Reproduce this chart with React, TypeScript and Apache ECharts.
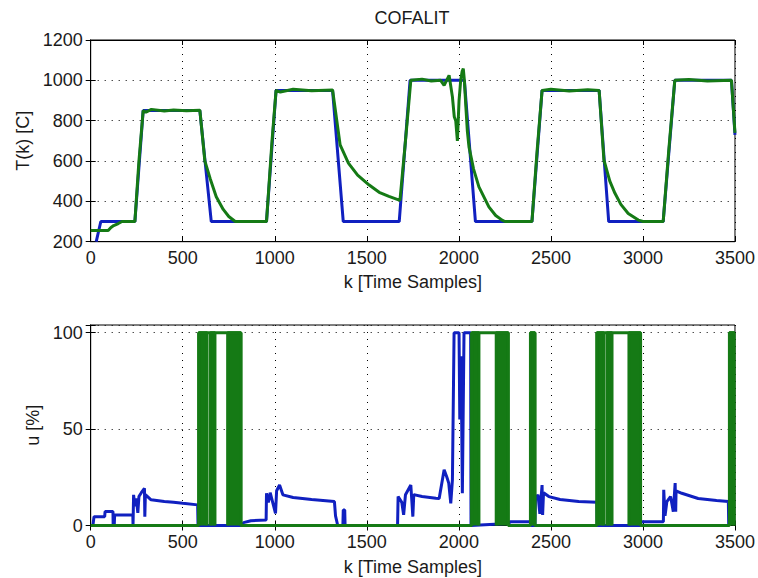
import React, { useEffect, useRef } from "react";
import * as echarts from "echarts";

// ---------- data ----------
const xTicks = [0, 500, 1000, 1500, 2000, 2500, 3000, 3500];
const tTicks = [200, 400, 600, 800, 1000, 1200];
const uTicks = [0, 50, 100];

// Top plot: temperature T(k) [C]
const topBlue: number[][] = [
  [30, 200], [55, 300], [240, 300], [285, 850], [593, 850], [655, 300], [955, 300],
  [1007, 950], [1314, 950], [1372, 300], [1676, 300], [1735, 1000], [2030, 1000],
  [2090, 300], [2397, 300], [2452, 950], [2762, 950], [2814, 300], [3110, 300],
  [3173, 1000], [3481, 1000], [3500, 730],
];

const topGreen: number[][] = [
  [0, 255], [95, 255], [110, 270], [125, 280], [150, 290], [170, 300], [240, 300],
  [262, 600], [285, 850], [300, 842], [330, 856], [400, 848], [450, 853], [520, 849], [593, 852],
  [620, 600], [650, 510], [682, 423], [720, 360], [750, 325], [785, 300], [955, 300],
  [985, 700], [1007, 950], [1030, 942], [1100, 956], [1200, 948], [1314, 952],
  [1355, 680], [1400, 590], [1450, 530], [1513, 481], [1567, 445], [1620, 425], [1680, 405],
  [1710, 700], [1739, 1000], [1800, 1006], [1850, 997], [1901, 1000], [1920, 975], [1935, 1002],
  [1947, 1025], [1965, 918], [1975, 820], [1983, 800], [1992, 700], [2001, 900], [2010, 1000],
  [2018, 1045], [2024, 1058], [2030, 1000], [2037, 885], [2046, 750], [2055, 670], [2080, 560],
  [2109, 472], [2163, 373], [2200, 330], [2235, 307], [2250, 300], [2397, 300],
  [2425, 650], [2452, 950], [2500, 956], [2600, 947], [2700, 953], [2762, 950],
  [2788, 605], [2820, 500], [2848, 440], [2880, 385], [2920, 340], [2975, 307], [3000, 300], [3110, 300],
  [3140, 650], [3173, 1000], [3250, 1004], [3350, 997], [3481, 1000], [3500, 740],
];

// Bottom plot: control signal u [%]
const bottomBlue: number[][] = [
  [12, 0], [18, 4.6], [76, 4.6], [78, 7.2], [121, 7.2], [122, 0], [128, 0], [130, 5.5], [229, 5.5],
  [230, 0], [233, 15.9], [240, 10], [248, 14], [256, 6.5], [262, 15], [275, 17], [292, 19.3],
  [294, 4.6], [297, 16], [328, 13.3], [400, 12.5], [450, 12], [500, 11.5], [581, 10.7], [583, 0],
  [825, 0], [830, 1.5], [870, 2.5], [953, 2.9], [955, 16.7], [965, 12], [975, 17], [1004, 6.3],
  [1010, 18], [1026, 21], [1044, 15.9], [1100, 14.5], [1200, 13.5], [1324, 12.4], [1330, 5],
  [1342, 0], [1370, 0], [1372, 8], [1380, 8], [1382, 0], [1667, 0], [1670, 15], [1690, 12],
  [1700, 5.5], [1710, 16], [1739, 21], [1750, 4.6], [1755, 16], [1800, 15], [1875, 14.1],
  [1893, 14], [1920, 28.9], [1935, 25], [1945, 22], [1956, 11.5], [1965, 23.7], [1974, 100],
  [2001, 100], [2005, 55], [2012, 87.8], [2019, 16.7], [2028, 100], [2064, 100], [2066, 0],
  [2270, 1], [2280, 2], [2389, 2], [2392, 0], [2413, 0], [2416, 13.3], [2430, 16], [2440, 6],
  [2452, 21], [2455, 5.5], [2460, 17], [2489, 15], [2550, 13.5], [2651, 12.4], [2750, 12],
  [2752, 0], [2985, 0], [2987, 1.5], [3000, 2], [3111, 2], [3113, 18.5], [3120, 5], [3130, 12.4],
  [3150, 15], [3165, 7.2], [3175, 22], [3178, 7.2], [3180, 18], [3211, 16.7], [3300, 14],
  [3400, 13], [3464, 12.4], [3466, 0],
];

const bottomGreen: number[][] = [
  [0, 0], [587, 0], [587, 100], [816, 100], [816, 0], [2070, 0], [2070, 100], [2268, 100],
  [2268, 0], [2389, 0], [2389, 100], [2413, 100], [2413, 0], [2750, 0], [2750, 100],
  [2987, 100], [2987, 0], [3470, 0], [3470, 100], [3500, 100],
];

// dense on/off switching intervals (filled solid between 0 and 100): [start, end]
const greenBlocks: number[][] = [
  [587, 632], [650, 675], [744, 816], [2070, 2109], [2203, 2268], [2389, 2413],
  [2750, 2786], [2804, 2832], [2924, 2987], [3470, 3496],
];

// ---------- styling ----------
const BLUE = "#1020c0";
const GREEN = "#157a15";
const TXT = "#1a1a1a";
const FONT = "Liberation Sans, Arial, sans-serif";
const FS = 18;
const LW = 3;

const dotted = { show: true, lineStyle: { color: "#000", type: [1, 6] as any, width: 1 } };

function mainX(gridIndex: number, nameGap: number) {
  return {
    type: "value", gridIndex, min: xTicks[0], max: xTicks[xTicks.length - 1], interval: 500,
    name: "k [Time Samples]", nameLocation: "middle", nameGap,
    nameTextStyle: { color: TXT, fontSize: FS, fontFamily: FONT },
    axisLine: { show: true, lineStyle: { color: "#000", width: 1 } },
    axisTick: { show: true, inside: true, length: 5, lineStyle: { color: "#000" } },
    axisLabel: {
      color: TXT, fontSize: FS, fontFamily: FONT, margin: 7,
      formatter: (v: number) => (xTicks.includes(v) ? String(v) : ""),
    },
    splitLine: dotted,
  };
}
function sideX(gridIndex: number) {
  return {
    type: "value", gridIndex, position: "top", min: xTicks[0], max: xTicks[xTicks.length - 1], interval: 500,
    axisLine: { show: true, lineStyle: { color: "#000", width: 1 } },
    axisTick: { show: true, inside: true, length: 5, lineStyle: { color: "#000" } },
    axisLabel: { show: false }, splitLine: { show: false },
  };
}
function mainY(gridIndex: number, min: number, max: number, interval: number, name: string, nameGap: number, ticks: number[]) {
  return {
    type: "value", gridIndex, min, max, interval,
    name, nameLocation: "middle", nameGap, nameRotate: 90,
    nameTextStyle: { color: TXT, fontSize: FS, fontFamily: FONT },
    axisLine: { show: true, lineStyle: { color: "#000", width: 1 } },
    axisTick: { show: true, inside: true, length: 5, lineStyle: { color: "#000" } },
    axisLabel: {
      color: TXT, fontSize: FS, fontFamily: FONT, margin: 8,
      formatter: (v: number) => (ticks.includes(v) ? String(v) : ""),
    },
    splitLine: dotted,
  };
}
function sideY(gridIndex: number, min: number, max: number, interval: number) {
  return {
    type: "value", gridIndex, position: "right", min, max, interval,
    axisLine: { show: true, lineStyle: { color: "#000", width: 1 } },
    axisTick: { show: true, inside: true, length: 5, lineStyle: { color: "#000" } },
    axisLabel: { show: false }, splitLine: { show: false },
  };
}

export default function App() {
  const ref = useRef<HTMLDivElement>(null);
  useEffect(() => {
    if (!ref.current) return;
    const chart = echarts.init(ref.current, null, { renderer: "svg" });
    const blockSeries = greenBlocks.map(([a, b]) => ({
      type: "line", xAxisIndex: 2, yAxisIndex: 2, showSymbol: false, silent: true,
      data: [[a, 0], [a, 100], [b, 100], [b, 0]],
      lineStyle: { color: GREEN, width: LW },
      areaStyle: { color: GREEN, opacity: 1, origin: "start" },
      itemStyle: { color: GREEN }, z: 3,
    }));
    const option: any = {
      animation: false,
      backgroundColor: "#fff",
      graphic: [
        {
          type: "text", x: 412, y: 18,
          style: { text: "COFALIT", align: "center", verticalAlign: "middle", fontSize: FS, fontFamily: FONT, fill: TXT },
        },
      ],
      grid: [
        { left: 90.7, top: 40, width: 646, height: 201.7, show: true, borderColor: "#000", borderWidth: 1 },
        { left: 90.7, top: 325, width: 646, height: 200.5, show: true, borderColor: "#000", borderWidth: 1 },
      ],
      xAxis: [mainX(0, 31), sideX(0), mainX(1, 32), sideX(1)],
      yAxis: [
        mainY(0, 200, 1200, 200, "T(k) [C]", 57, tTicks),
        sideY(0, 200, 1200, 200),
        mainY(1, 0, 104, 50, "u [%]", 46, uTicks),
        sideY(1, 0, 104, 50),
      ],
      series: [
        {
          type: "line", xAxisIndex: 0, yAxisIndex: 0, data: topBlue, showSymbol: false,
          lineStyle: { color: BLUE, width: LW }, itemStyle: { color: BLUE }, z: 2,
        },
        {
          type: "line", xAxisIndex: 0, yAxisIndex: 0, data: topGreen, showSymbol: false,
          lineStyle: { color: GREEN, width: LW }, itemStyle: { color: GREEN }, z: 3,
        },
        {
          type: "line", xAxisIndex: 2, yAxisIndex: 2, data: bottomBlue, showSymbol: false,
          lineStyle: { color: BLUE, width: LW }, itemStyle: { color: BLUE }, z: 2,
        },
        {
          type: "line", xAxisIndex: 2, yAxisIndex: 2, data: bottomGreen, showSymbol: false,
          lineStyle: { color: GREEN, width: LW }, itemStyle: { color: GREEN }, z: 3,
        },
        ...blockSeries,
      ],
    };
    chart.setOption(option);
    return () => chart.dispose();
  }, []);
  return (
    <div
      ref={ref}
      style={{ position: "fixed", left: 0, top: 0, width: 758, height: 578, background: "#fff" }}
    />
  );
}
